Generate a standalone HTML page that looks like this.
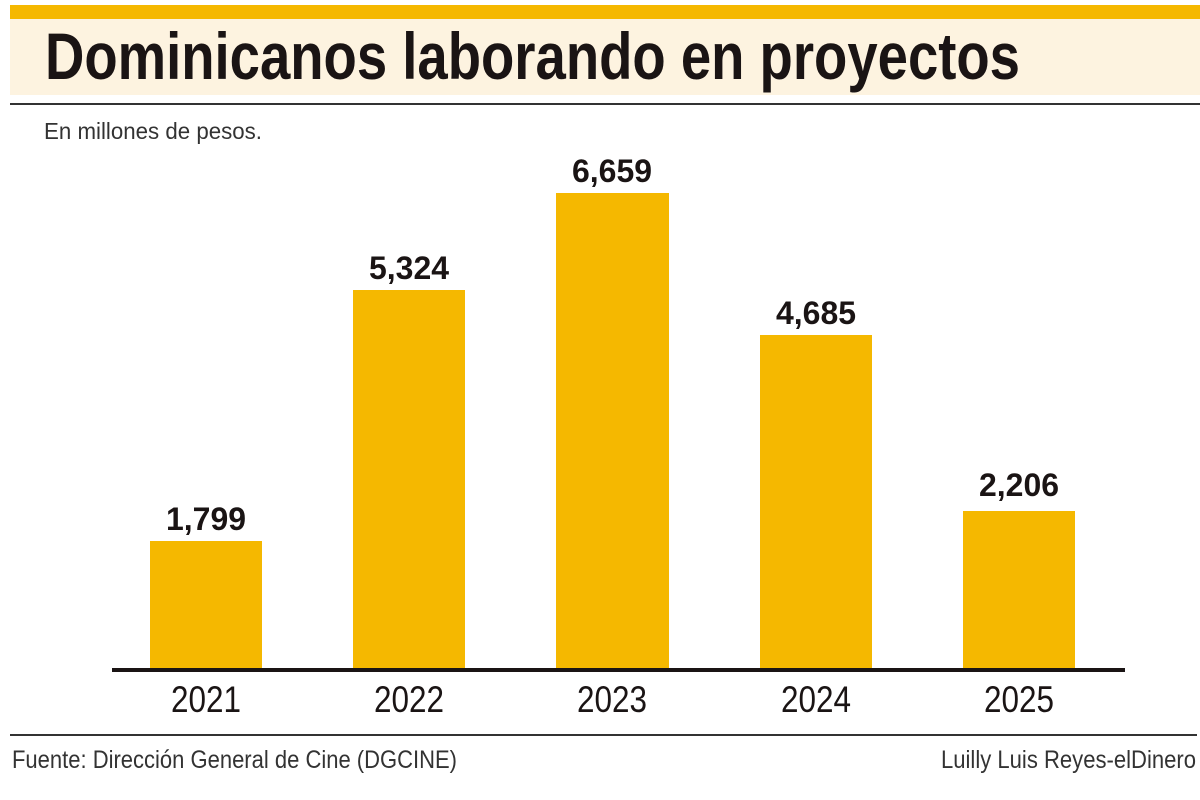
<!DOCTYPE html>
<html><head><meta charset="utf-8"><style>
html,body{margin:0;padding:0;background:#fff;}
svg{display:block;}
</style></head><body>
<svg width="1200" height="800" xmlns="http://www.w3.org/2000/svg" font-family="Liberation Sans, sans-serif">
<rect x="0" y="0" width="1200" height="800" fill="#fff"/>
<rect x="10" y="5" width="1190" height="14" fill="#f5b800"/>
<rect x="10" y="19" width="1190" height="76" fill="#fdf3e0"/>
<rect x="10" y="103" width="1190" height="2" fill="#333"/>
<text x="45" y="79" font-size="66" font-weight="bold" fill="#1a1414" textLength="975" lengthAdjust="spacingAndGlyphs">Dominicanos laborando en proyectos</text>
<text x="44" y="139" font-size="23" fill="#333" textLength="218" lengthAdjust="spacingAndGlyphs">En millones de pesos.</text>
<g fill="#f5b800">
<rect x="150" y="541" width="112" height="128"/>
<rect x="353" y="290" width="112" height="379"/>
<rect x="556" y="193" width="113" height="476"/>
<rect x="760" y="335" width="112" height="334"/>
<rect x="963" y="511" width="112" height="158"/>
</g>
<rect x="112" y="668" width="1013" height="4" fill="#1a1414"/>
<g font-size="32" fill="#1a1414" text-anchor="middle" font-weight="bold">
<text x="206" y="530" textLength="80" lengthAdjust="spacingAndGlyphs">1,799</text>
<text x="409" y="279" textLength="80" lengthAdjust="spacingAndGlyphs">5,324</text>
<text x="612" y="182" textLength="80" lengthAdjust="spacingAndGlyphs">6,659</text>
<text x="816" y="324" textLength="80" lengthAdjust="spacingAndGlyphs">4,685</text>
<text x="1019" y="496" textLength="80" lengthAdjust="spacingAndGlyphs">2,206</text>
</g>
<g font-size="37" fill="#1a1414" text-anchor="middle">
<text x="206" y="712" textLength="70" lengthAdjust="spacingAndGlyphs">2021</text>
<text x="409" y="712" textLength="70" lengthAdjust="spacingAndGlyphs">2022</text>
<text x="612" y="712" textLength="70" lengthAdjust="spacingAndGlyphs">2023</text>
<text x="816" y="712" textLength="70" lengthAdjust="spacingAndGlyphs">2024</text>
<text x="1019" y="712" textLength="70" lengthAdjust="spacingAndGlyphs">2025</text>
</g>
<rect x="10" y="734" width="1187" height="2" fill="#333"/>
<text x="12" y="768" font-size="25" fill="#333" textLength="445" lengthAdjust="spacingAndGlyphs">Fuente: Dirección General de Cine (DGCINE)</text>
<text x="1196" y="768" font-size="25" fill="#333" text-anchor="end" textLength="255" lengthAdjust="spacingAndGlyphs">Luilly Luis Reyes-elDinero</text>
</svg>
</body></html>
